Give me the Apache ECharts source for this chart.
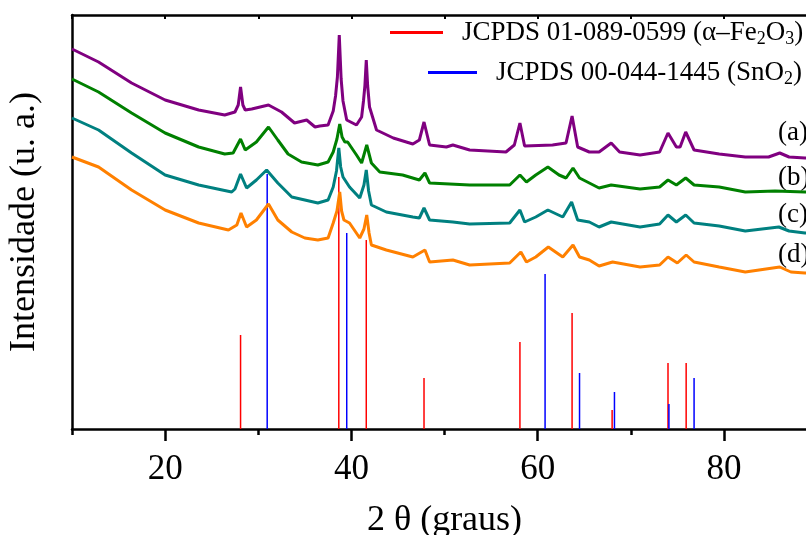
<!DOCTYPE html>
<html>
<head>
<meta charset="utf-8">
<script src="https://cdn.jsdelivr.net/npm/echarts@6/dist/echarts.min.js"></script>
<style>html,body{margin:0;padding:0;background:#fff;}#c{width:806px;height:535px;}</style>
</head>
<body>
<div id="c"></div>
<script>
// [2θ (graus), intensidade (u. a.)]
const sampleA = [[10,380],[12.85,367],[16.4,346],[20,329],[23.6,319],[26.4,314],[27.5,317],[27.85,324],[28.1,342],[28.35,324],[28.6,319],[29.3,320],[31.1,324],[32.5,317],[33.9,306],[35.2,309],[36.1,302],[36.6,303],[37.5,304],[38.05,318],[38.3,333],[38.5,352],[38.7,394],[38.9,350],[39.1,328],[39.5,309],[40.55,304],[41.1,312],[41.3,328],[41.45,343],[41.6,369],[41.75,343],[41.95,322],[42.7,299],[44.5,291],[46.6,285],[47.3,289],[47.8,307],[48.4,284],[50.2,282],[50.9,284],[52.7,279],[56.6,277],[57.5,284],[58.1,306],[58.6,283],[61.6,284],[63.05,286],[63.7,313],[64.3,282],[65.55,277],[66.6,277],[67.9,286],[68.8,277],[71,274],[73.1,277],[74,296],[74.9,282],[75.3,282],[75.9,297],[76.8,279],[79.5,275],[82.3,272],[84.8,272],[86,276],[87,272],[88.7,271],[90,270]];
const sampleB = [[10,350],[12.85,337],[16.4,316],[20,296],[23.6,282],[26.4,275],[27.3,276],[28.1,290],[28.6,279],[29.8,287],[31.1,302],[32.1,289],[33.2,275],[34.65,267],[36.4,264],[37.5,267],[38.05,277],[38.45,290],[38.75,305],[39.0,292],[39.3,287],[39.6,287],[40.55,274],[41.1,266],[41.65,284],[42.15,266],[43.05,257],[45.5,254],[47.3,249],[47.9,256],[48.4,246],[52.7,244],[57,244],[58.1,254],[58.8,247],[59.8,254],[61.1,262],[62.3,254],[63.05,251],[63.8,261],[64.5,251],[65.55,246],[66.6,241],[67.9,244],[71,240],[73.1,242],[74,249],[74.9,244],[75.9,251],[76.8,244],[79.5,242],[82.3,237],[85.5,238],[88.7,237],[90,237]];
const sampleC = [[10,311],[12.85,299],[16.4,276],[20,254],[23.6,244],[27.15,237],[27.5,240],[28.1,255],[28.75,241],[29.8,249],[30.9,259],[32.1,246],[33.6,232],[35,229],[36.4,226],[37.5,229],[38.05,242],[38.4,258],[38.65,281],[38.85,262],[39.1,252],[39.8,242],[40.9,231],[41.35,244],[41.6,259],[41.85,238],[42.15,224],[43.75,217],[46.6,212],[47.3,211],[47.8,221],[48.4,209],[50.9,207],[52.7,205],[57,206],[58.1,219],[58.6,207],[59.8,212],[61.1,219],[62.7,212],[63.65,227],[64.3,209],[65.55,207],[66.6,202],[67.9,207],[71,202],[73.1,205],[74,214],[74.9,207],[75.9,214],[76.8,206],[79.5,203],[82.3,198],[85.9,202],[87,198],[88.7,196],[90,195]];
const sampleD = [[10,272],[12.85,262],[16.4,239],[20,219],[23.6,206],[26.8,199],[27.7,204],[28.15,216],[28.75,202],[29.8,209],[31.1,225],[32.1,209],[33.6,197],[35,191],[36.4,189],[37.5,191],[38.05,206],[38.45,218],[38.75,237],[38.95,218],[39.2,209],[39.8,206],[40.9,191],[41.35,200],[41.65,214],[41.9,196],[42.15,184],[43.75,179],[46.6,172],[47.9,179],[48.4,167],[50.9,169],[52.7,164],[57,166],[58.2,177],[58.8,167],[59.8,172],[61.15,182],[62.7,172],[63.8,184],[64.5,172],[65.55,169],[66.6,163],[68.05,167],[71,162],[73.1,164],[74,172],[75,166],[75.95,174],[76.8,167],[79.5,162],[82.3,157],[86,162],[87.2,157],[88.7,156],[90,156]];
// reference patterns (stick positions, relative heights)
const fe2o3Sticks = [[28.1,94],[38.65,252],[41.6,189],[47.8,51],[58.1,87],[63.7,116],[68.0,19],[74.0,66],[75.95,66]];
const sno2Sticks = [[30.96,255],[39.5,196],[60.8,155],[64.5,56],[68.25,37],[74.1,25],[76.8,51]];
const xMajorTicks = [20,40,60,80];
const xMinorTicks = [10,30,50,70,90];
const sampleLabels = ['(a)','(b)','(c)','(d)'];
const legendNames = ['JCPDS 01-089-0599 (α–Fe2O3)','JCPDS 00-044-1445 (SnO2)'];
const legendRich = {
  'JCPDS 01-089-0599 (α–Fe2O3)': '{n|JCPDS 01-089-0599 (α–Fe}{s|2}{n|O}{s|3}{n|)}',
  'JCPDS 00-044-1445 (SnO2)': '{n|JCPDS 00-044-1445 (SnO}{s|2}{n|)}'
};

const FF = '"Liberation Serif","Times New Roman",serif';
const chart = echarts.init(document.getElementById('c'), null, {renderer:'canvas'});
const legendText = {
  fontFamily: FF, fontSize: 27, color: '#000', padding: [0,0,0,14],
  rich: {
    n: {fontFamily: FF, fontSize: 27, color: '#000'},
    s: {fontFamily: FF, fontSize: 18, color: '#000', padding: [13,0,0,0]}
  }
};
const labelYs = [133, 178, 215, 255];

chart.setOption({
  animation: false,
  backgroundColor: '#fff',
  grid: {left: 72, right: -11, top: 15, bottom: 106, containLabel: false, outerBoundsMode: 'none'},
  legend: [
    {data: [legendNames[0]], left: 390, top: 19, padding: 0, icon: 'rect', itemWidth: 53, itemHeight: 3,
     selectedMode: false, textStyle: legendText, formatter: n => legendRich[n]},
    {data: [legendNames[1]], left: 428, top: 59, padding: 0, icon: 'rect', itemWidth: 49, itemHeight: 3,
     selectedMode: false, textStyle: legendText, formatter: n => legendRich[n]}
  ],
  xAxis: [
    {type: 'value', position: 'bottom', min: 10, max: 90, interval: 10,
     axisLine: {lineStyle: {color: '#000', width: 2.5}},
     axisTick: {show: true, customValues: xMajorTicks, length: 12, lineStyle: {color: '#000', width: 2.5}},
     axisLabel: {customValues: xMajorTicks, fontFamily: FF, fontSize: 35, color: '#000', margin: 23},
     splitLine: {show: false},
     name: '2 θ (graus)', nameLocation: 'middle', nameGap: 74,
     nameTextStyle: {fontFamily: FF, fontSize: 36, color: '#000'}},
    {type: 'value', position: 'bottom', min: 10, max: 90, interval: 10,
     axisLine: {show: false},
     axisTick: {show: true, customValues: xMinorTicks, length: 6, lineStyle: {color: '#000', width: 2.5}},
     axisLabel: {show: false}, splitLine: {show: false}},
    {type: 'value', position: 'top', min: 10, max: 90, interval: 10,
     axisLine: {lineStyle: {color: '#000', width: 2.5}},
     axisTick: {show: true, inside: true, length: 4, lineStyle: {color: '#000', width: 2}},
     axisLabel: {show: false}, splitLine: {show: false}}
  ],
  yAxis: [
    {type: 'value', min: 0, max: 414, position: 'left',
     axisLine: {show: true, lineStyle: {color: '#000', width: 2.5}},
     axisTick: {show: false}, axisLabel: {show: false}, splitLine: {show: false},
     name: 'Intensidade (u. a.)', nameLocation: 'middle', nameGap: 29,
     nameTextStyle: {fontFamily: FF, fontSize: 36, color: '#000'}},
    {type: 'value', min: 0, max: 414, position: 'right',
     axisLine: {show: true, lineStyle: {color: '#000', width: 2.5}},
     axisTick: {show: false}, axisLabel: {show: false}, splitLine: {show: false}}
  ],
  series: [
    {name: 'a', type: 'line', data: sampleA, symbol: 'none', lineStyle: {color: '#800080', width: 3}, itemStyle: {color: '#800080'}},
    {name: 'b', type: 'line', data: sampleB, symbol: 'none', lineStyle: {color: '#008000', width: 3}, itemStyle: {color: '#008000'}},
    {name: 'c', type: 'line', data: sampleC, symbol: 'none', lineStyle: {color: '#008080', width: 3}, itemStyle: {color: '#008080'}},
    {name: 'd', type: 'line', data: sampleD, symbol: 'none', lineStyle: {color: '#ff8000', width: 3}, itemStyle: {color: '#ff8000'}},
    {name: legendNames[0], type: 'bar', data: fe2o3Sticks, barWidth: 1.5, barGap: '-100%', itemStyle: {color: '#ff0000'}, z: 3},
    {name: legendNames[1], type: 'bar', data: sno2Sticks, barWidth: 1.5, barGap: '-100%', itemStyle: {color: '#0000ff'}, z: 3}
  ],
  graphic: sampleLabels.map((t, i) => ({
    type: 'text', x: 778, y: labelYs[i],
    style: {text: t, fontFamily: FF, fontSize: 27, fill: '#000', verticalAlign: 'middle'}
  }))
});
</script>
</body>
</html>
